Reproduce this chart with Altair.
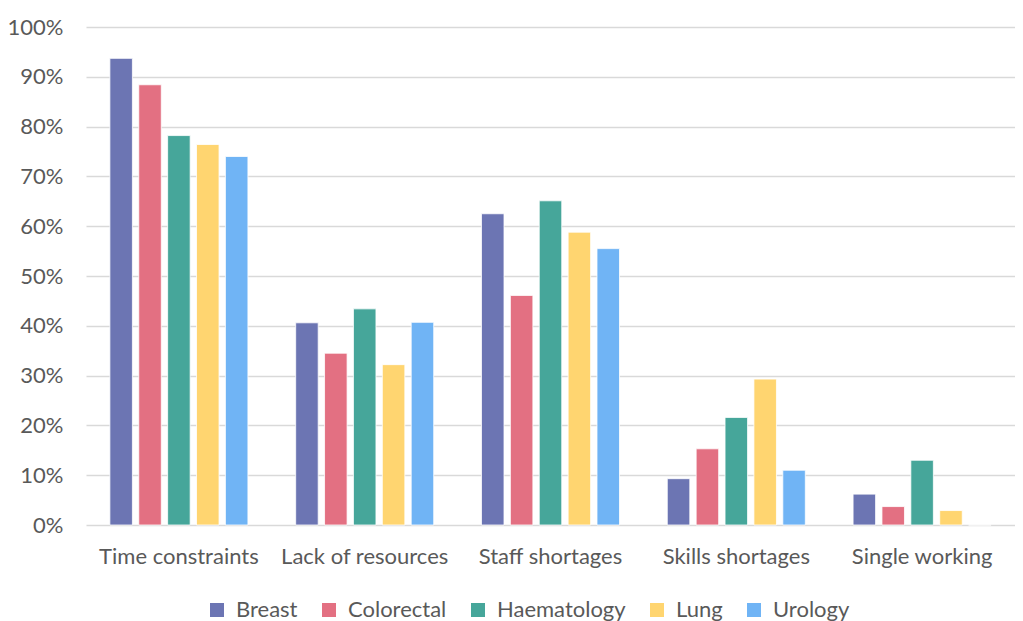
import altair as alt
import pandas as pd

categories = ["Time constraints", "Lack of resources", "Staff shortages", "Skills shortages", "Single working"]
series = ["Breast", "Colorectal", "Haematology", "Lung", "Urology"]
colors = ["#6C75B3", "#E37082", "#46A69A", "#FFD570", "#70B4F5"]

breast = [0.937, 0.406, 0.625, 0.093, 0.062]
colorectal = [0.884, 0.345, 0.461, 0.153, 0.037]
haematology = [0.782, 0.434, 0.651, 0.216, 0.130]
lung = [0.764, 0.322, 0.588, 0.293, 0.029]
urology = [0.740, 0.407, 0.555, 0.110, 0.0]

values = [breast, colorectal, haematology, lung, urology]
rows = []
for s, vals in zip(series, values):
    for c, v in zip(categories, vals):
        rows.append({"Category": c, "Series": s, "Value": v})
df = pd.DataFrame(rows)

FONT = "Lato"
FS = 22
TXT = "#595959"

chart = alt.Chart(df).mark_bar(stroke="white", strokeWidth=0.8).encode(
    x=alt.X("Category:N", sort=categories, title=None,
            scale=alt.Scale(paddingInner=0.257, paddingOuter=0.1285),
            axis=alt.Axis(labelAngle=0, labelFont=FONT, labelFontSize=FS, labelColor=TXT,
                          labelPadding=21, ticks=False, domain=False, grid=False)),
    xOffset=alt.XOffset("Series:N", sort=series,
                        scale=alt.Scale(paddingInner=0.22, paddingOuter=0)),
    y=alt.Y("Value:Q", title=None,
            scale=alt.Scale(domain=[0, 1], nice=False),
            axis=alt.Axis(format=".0%", values=[i / 10 for i in range(11)], labelFont=FONT,
                          labelFontSize=FS, labelColor=TXT, labelPadding=23,
                          ticks=False, domain=False, grid=True, gridColor="#D9D9D9", gridWidth=1.4)),
    color=alt.Color("Series:N", sort=series,
                    scale=alt.Scale(domain=series, range=colors),
                    legend=alt.Legend(title=None, orient="none", direction="horizontal",
                                      legendX=120, legendY=572, symbolType="square", symbolSize=196,
                                      symbolStrokeWidth=0, labelFont=FONT, labelFontSize=FS,
                                      labelColor=TXT, labelOffset=8, columnPadding=20)),
).properties(
    width=929, height=498,
    autosize=alt.AutoSizeParams(type="none"),
    padding={"left": 78, "top": 19, "right": 0, "bottom": 96},
).configure_view(stroke=None)

chart.save("out.html", embed_options={"renderer": "svg", "actions": False})
